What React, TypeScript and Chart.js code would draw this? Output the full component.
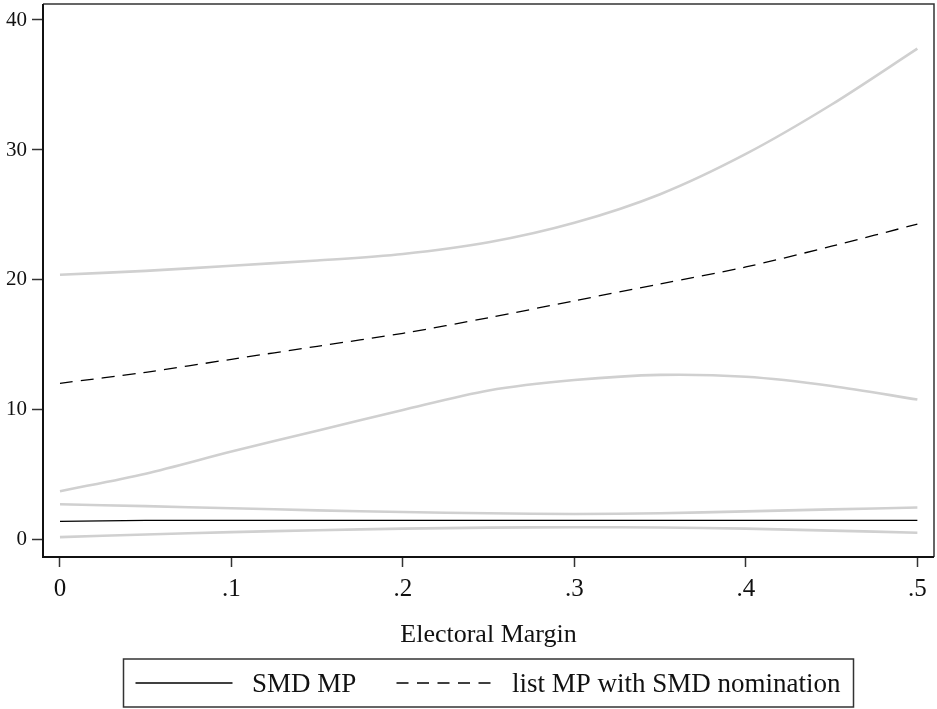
import React, { useEffect, useRef } from "react";
import { Chart, registerables } from "chart.js";

Chart.register(...registerables);

// ---- data ----
const xValues = [0, 0.05, 0.1, 0.15, 0.2, 0.25, 0.3, 0.35, 0.4, 0.45, 0.5];
const smdMean = [1.43, 1.5, 1.5, 1.5, 1.5, 1.5, 1.5, 1.5, 1.5, 1.5, 1.5];
const smdUpper = [2.75, 2.6, 2.44, 2.28, 2.15, 2.05, 2.0, 2.05, 2.2, 2.35, 2.5];
const smdLower = [0.22, 0.42, 0.6, 0.75, 0.87, 0.95, 0.98, 0.96, 0.87, 0.72, 0.56];
const listMean = [12.05, 12.9, 13.9, 14.9, 15.9, 17.1, 18.4, 19.7, 21.0, 22.6, 24.3];
const listUpper = [20.4, 20.7, 21.1, 21.5, 22.0, 22.9, 24.4, 26.6, 29.7, 33.5, 37.8];
const listLower = [3.75, 5.1, 6.8, 8.4, 10.0, 11.5, 12.3, 12.7, 12.55, 11.85, 10.8];

const xTickValues = [0, 0.1, 0.2, 0.3, 0.4, 0.5];
const xTickLabels = ["0", ".1", ".2", ".3", ".4", ".5"];
const yTickValues = [0, 10, 20, 30, 40];
const yTickLabels = ["0", "10", "20", "30", "40"];

const xTitle = "Electoral Margin";
const legendLabels = ["SMD MP", "list MP with SMD nomination"];

const SERIF = '"Liberation Serif", "Times New Roman", serif';
const GRAY = "#d0d0d0";
const DASH = [13, 8];

const pts = (ys: number[]) => ys.map((y, i) => ({ x: xValues[i], y }));

const framePlugin = {
  id: "frameAndLegend",
  afterDraw(chart: any) {
    const { ctx, chartArea } = chart;
    const { left, right, top, bottom } = chartArea;
    ctx.save();
    // frame
    ctx.strokeStyle = "#333";
    ctx.lineWidth = 1.5;
    ctx.beginPath();
    ctx.moveTo(left, top);
    ctx.lineTo(right, top);
    ctx.lineTo(right, bottom);
    ctx.stroke();
    ctx.strokeStyle = "#111";
    ctx.lineWidth = 2;
    ctx.beginPath();
    ctx.moveTo(left, top);
    ctx.lineTo(left, bottom);
    ctx.lineTo(right, bottom);
    ctx.stroke();

    // legend
    const cx = (left + right) / 2;
    const boxW = 730;
    const bx = cx - boxW / 2;
    const by = 659;
    const bh = 48;
    ctx.strokeStyle = "#333";
    ctx.lineWidth = 1.5;
    ctx.strokeRect(bx, by, boxW, bh);
    const ly = by + 24;
    ctx.strokeStyle = "#000";
    ctx.lineWidth = 1.3;
    ctx.setLineDash([]);
    ctx.beginPath();
    ctx.moveTo(bx + 12, ly);
    ctx.lineTo(bx + 109, ly);
    ctx.stroke();
    ctx.setLineDash([12, 8.5]);
    ctx.beginPath();
    ctx.moveTo(bx + 273, ly);
    ctx.lineTo(bx + 374, ly);
    ctx.stroke();
    ctx.setLineDash([]);
    ctx.fillStyle = "#111";
    ctx.font = `27px ${SERIF}`;
    ctx.textBaseline = "middle";
    ctx.textAlign = "left";
    ctx.fillText(legendLabels[0], bx + 128.5, ly + 2);
    ctx.fillText(legendLabels[1], bx + 388.5, ly + 2);
    ctx.restore();
  },
};

export default function App() {
  const ref = useRef<HTMLCanvasElement | null>(null);
  useEffect(() => {
    if (!ref.current) return;
    const line = (label: string, data: number[], color: string, width: number, dash: number[] = []) => ({
      label,
      data: pts(data),
      borderColor: color,
      backgroundColor: color,
      borderWidth: width,
      borderDash: dash,
      pointRadius: 0,
      fill: false,
      tension: 0.3,
    });
    const chart = new Chart(ref.current, {
      type: "line",
      data: {
        datasets: [
          line(legendLabels[1], listMean, "#000", 1.3, DASH),
          line(legendLabels[0], smdMean, "#000", 1.3),
          line("list upper", listUpper, GRAY, 2.6),
          line("list lower", listLower, GRAY, 2.6),
          line("SMD upper", smdUpper, GRAY, 2.6),
          line("SMD lower", smdLower, GRAY, 2.6),
        ],
      },
      options: {
        animation: false,
        responsive: false,
        devicePixelRatio: 1,
        layout: { padding: { left: 0, right: 3, top: 4, bottom: 58.4 } },
        plugins: { legend: { display: false }, tooltip: { enabled: false } },
        scales: {
          x: {
            type: "linear",
            min: -0.0099,
            max: 0.5097,
            afterBuildTicks: (s: any) => {
              s.ticks = xTickValues.map((v) => ({ value: v }));
            },
            afterFit: (s: any) => {
              s.height = 93.6;
              s.paddingLeft = 0;
              s.paddingRight = 0;
            },
            ticks: {
              autoSkip: false,
              maxRotation: 0,
              padding: 7,
              color: "#111",
              font: { family: SERIF, size: 25 },
              callback: (v: any) => {
                const i = xTickValues.indexOf(Number(v));
                return i >= 0 ? xTickLabels[i] : "";
              },
            },
            grid: { drawOnChartArea: false, drawTicks: true, tickLength: 10, tickColor: "#333", tickWidth: 1.5 },
            border: { display: false },
            title: { display: true, text: xTitle, color: "#111", font: { family: SERIF, size: 26 }, padding: 0 },
          },
          y: {
            type: "linear",
            min: -1.31,
            max: 41.23,
            afterBuildTicks: (s: any) => {
              s.ticks = yTickValues.map((v) => ({ value: v }));
            },
            afterFit: (s: any) => {
              s.width = 43;
              s.paddingTop = 0;
              s.paddingBottom = 0;
            },
            ticks: {
              autoSkip: false,
              padding: 5,
              color: "#111",
              font: { family: SERIF, size: 21 },
              callback: (v: any) => {
                const i = yTickValues.indexOf(Number(v));
                return i >= 0 ? yTickLabels[i] : "";
              },
            },
            grid: { drawOnChartArea: false, drawTicks: true, tickLength: 11, tickColor: "#333", tickWidth: 1.5 },
            border: { display: false },
          },
        },
      },
      plugins: [framePlugin],
    });
    return () => chart.destroy();
  }, []);
  return (
    <div style={{ position: "fixed", left: 0, top: 0, width: 937, height: 709, background: "#fff" }}>
      <canvas ref={ref} width={937} height={709} style={{ width: 937, height: 709, display: "block" }} />
    </div>
  );
}
